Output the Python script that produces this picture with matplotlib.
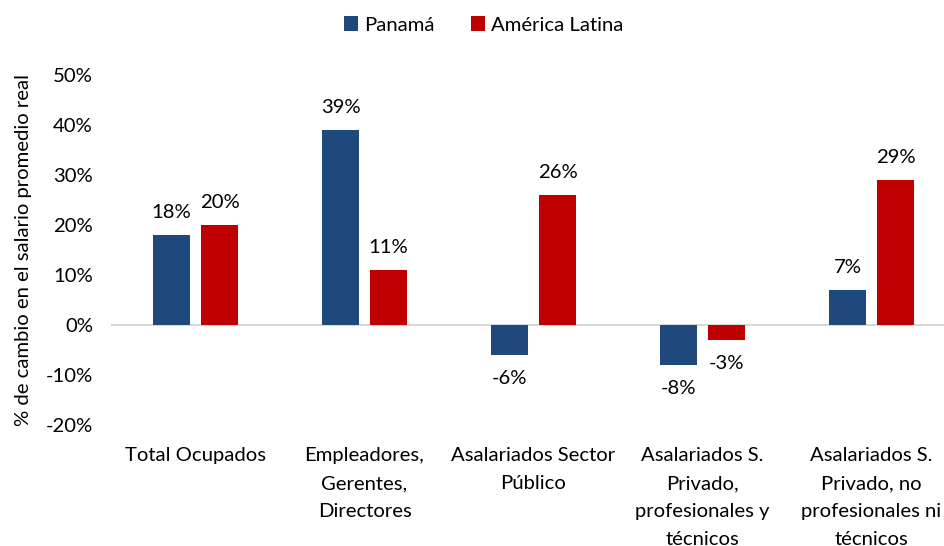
"""Cambio en el salario promedio real: Panamá vs América Latina."""
import matplotlib
matplotlib.use("Agg")
import matplotlib.pyplot as plt
import numpy as np

categories = [
    "Total Ocupados",
    "Empleadores,\nGerentes,\nDirectores",
    "Asalariados Sector\nPúblico",
    "Asalariados S.\nPrivado,\nprofesionales y\ntécnicos",
    "Asalariados S.\nPrivado, no\nprofesionales ni\ntécnicos",
]
panama = [18, 39, -6, -8, 7]
america_latina = [20, 11, 26, -3, 29]

BLUE = "#1F497D"
RED = "#C00000"
FS = 14.6

plt.rcParams["font.family"] = ["Lato", "DejaVu Sans"]
plt.rcParams["font.size"] = FS

fig = plt.figure(figsize=(9.45, 5.46), dpi=100)
ax = fig.add_axes([111 / 945, 1 - 425 / 546, 845 / 945, 350 / 546])

x = np.arange(len(categories))
w = 0.22
off = 0.142
b1 = ax.bar(x - off, panama, w, color=BLUE, label="Panamá")
b2 = ax.bar(x + off, america_latina, w, color=RED, label="América Latina")

for bars, vals in ((b1, panama), (b2, america_latina)):
    for bar, v in zip(bars, vals):
        cx = bar.get_x() + bar.get_width() / 2
        if v >= 0:
            ax.annotate(f"{v}%", (cx, v), xytext=(0, 10), textcoords="offset points",
                        ha="center", va="bottom")
        else:
            ax.annotate(f"{v}%", (cx, v), xytext=(0, -11), textcoords="offset points",
                        ha="center", va="top")

ax.set_ylim(-20, 50)
ax.set_xlim(-0.5, len(categories) - 0.5)
ax.set_yticks(range(-20, 51, 10))
ax.set_yticklabels([f"{t}%" for t in range(-20, 51, 10)])
ax.axhline(0, color="#D9D9D9", linewidth=1.5, zorder=0)
for s in ax.spines.values():
    s.set_visible(False)
ax.tick_params(axis="both", length=0)
ax.tick_params(axis="y", pad=13)
ax.set_xticks([])
for xi, lab in zip(x, categories):
    ax.text(xi, -24.4, lab, ha="center", va="top", linespacing=1.78)

ax.set_ylabel("% de cambio en el salario promedio real")
ax.yaxis.set_label_coords(-0.093, 0.5)

fig.legend(handles=[b1, b2], loc="center", bbox_to_anchor=(0.512, 1 - 25 / 546),
           ncol=2, frameon=False, handlelength=0.7, handleheight=0.7,
           handletextpad=0.3, columnspacing=1.8)

fig.savefig("out.png", dpi=100)
